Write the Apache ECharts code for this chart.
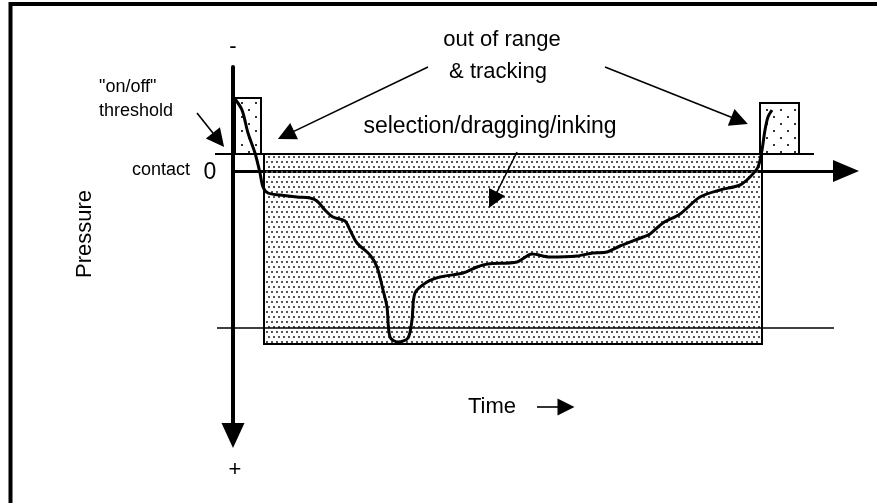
<!DOCTYPE html>
<html>
<head>
<meta charset="utf-8">
<script src="https://cdn.jsdelivr.net/npm/echarts@6/dist/echarts.min.js"></script>
<style>
  html, body { margin: 0; background: #fff; }
  #chart { width: 877px; height: 503px; }
</style>
</head>
<body>
<div id="chart"></div>
<script>
// pen pressure trace: time along x, pressure down the (inverted) y axis, 0 = contact
const traceTime = [0.4, 1.8, 3, 4.4, 5.4, 6, 7, 9.4, 12.8, 15.4, 16.8, 18.4, 20, 22.4, 23.4, 24.8,
  27.4, 28.8, 30, 30.8, 31.4, 33, 35, 35.8, 36.4, 38.8, 41.4, 46, 48.8, 51, 56.8, 59.8, 63.4,
  68.8, 72, 74.8, 77.4, 82, 83.4, 86, 89.4, 93.4, 97.4, 101.4, 103.4, 105, 105.8, 106.4, 107, 107.8]
const tracePressure = [-18, -15.25, -9.5, -4.5, 0.5, 4, 5.5, 6, 6.5, 6.75, 7.5, 9.75, 11.5, 12.5, 14.75, 18,
  21, 24, 29.75, 34, 41.5, 42.75, 41.75, 37.25, 30.5, 27.75, 26.5, 25.5, 24, 23.25, 22.75, 20.75, 21.5,
  21.25, 20.5, 20.25, 18.75, 16.5, 15.75, 13, 10.75, 6.5, 4.75, 3.5, 1.5, -1, -5.25, -10.25, -13.5, -15.25]

// levels
const thresholdLevel = -4.25
const lowerLevel = 39.25

// zones [t0, t1, p0, p1]
const zoneInking = [6.2, 105.8, -4.25, 43.25]
const zoneHoverLeft = [0.4, 5.6, -18.25, -4.25]
const zoneHoverRight = [105.4, 113.2, -17, -4.25]

// pointer arrows [[t0, p0], [t1, p1]]
const pointers = [
  [[-7.2, -14.5], [-2.9, -7.75]],
  [[39, -26], [10.6, -8.97]],
  [[74.4, -26], [101.3, -12.6]],
  [[56.8, -4.75], [52, 7.25]]
]
const timeArrow = [[60.8, 59], [66.6, 59]]

function dotPattern(size, dots, color, r) {
  const c = document.createElement('canvas')
  c.width = c.height = size
  const ctx = c.getContext('2d')
  ctx.fillStyle = color
  dots.forEach(([x, y]) => ctx.fillRect(x, y, r, r))
  return { image: c, repeat: 'repeat' }
}

const densePattern = dotPattern(10, [[1, 1], [6, 1], [3, 6], [8, 6]], '#555', 2)
const sparsePattern = dotPattern(14, [[3, 4], [10, 11]], '#333', 2)

const zoneArea = (z, fill) => [
  { coord: [z[0], z[2]], itemStyle: { color: fill, borderColor: '#000', borderWidth: 2, opacity: 1 } },
  { coord: [z[1], z[3]] }
]

const font = 'Liberation Sans, Arial, sans-serif'
const txt = (text, x, y, size, align, extra) => Object.assign({
  type: 'text', x, y, z: 20,
  style: { text, fill: '#000', font: size + 'px ' + font, align, verticalAlign: 'middle',
    textAlign: align, textVerticalAlign: 'middle' }
}, extra || {})

const chart = echarts.init(document.getElementById('chart'))

chart.setOption({
  animation: false,
  backgroundColor: '#fff',
  grid: { left: 233, right: 31, top: 67, bottom: 67.5 },
  xAxis: {
    type: 'value', min: 0, max: 122.6,
    axisLine: { show: true, onZero: true, symbol: ['none', 'triangle'], symbolSize: [22, 26],
      lineStyle: { color: '#000', width: 3 } },
    axisTick: { show: false }, axisLabel: { show: false }, splitLine: { show: false }
  },
  yAxis: {
    type: 'value', inverse: true, min: -26, max: 66.125,
    axisLine: { show: true, onZero: true, symbol: ['triangle', 'none'], symbolSize: [23, 25],
      lineStyle: { color: '#000', width: 4 } },
    axisTick: { show: false }, axisLabel: { show: false }, splitLine: { show: false }
  },
  graphic: [
    { type: 'rect', z: -1, shape: { x: 10.5, y: 4, width: 900, height: 600 },
      style: { fill: 'none', stroke: '#000', lineWidth: 4 } },
    txt('out of range', 502, 40, 22, 'center'),
    txt('& tracking', 498, 72, 22, 'center'),
    txt('selection/dragging/inking', 490, 127, 23, 'center'),
    txt('"on/off"', 99, 87, 18, 'left'),
    txt('threshold', 99, 111, 18, 'left'),
    txt('contact', 190, 170, 18, 'right'),
    txt('0', 210, 173, 23, 'center'),
    txt('-', 233, 47, 22, 'center'),
    txt('+', 235, 470, 22, 'center'),
    txt('Time', 492, 407, 22, 'center'),
    txt('Pressure', 85, 234, 22, 'center', { rotation: Math.PI / 2 })
  ],
  series: [
    {
      type: 'line', name: 'pressure',
      data: traceTime.map((t, i) => [t, tracePressure[i]]),
      smooth: 0.3, showSymbol: false, z: 5,
      lineStyle: { color: '#000', width: 3 },
      markArea: {
        silent: true,
        data: [
          zoneArea(zoneInking, densePattern),
          zoneArea(zoneHoverLeft, sparsePattern),
          zoneArea(zoneHoverRight, sparsePattern)
        ]
      }
    },
    {
      type: 'lines', name: 'levels', coordinateSystem: 'cartesian2d', clip: false, silent: true, z: 4,
      symbol: 'none',
      data: [
        { coords: [[-3.6, thresholdLevel], [116.2, thresholdLevel]], lineStyle: { width: 2 } },
        { coords: [[-3.2, lowerLevel], [120.2, lowerLevel]], lineStyle: { width: 1.5 } }
      ],
      lineStyle: { color: '#000', opacity: 1 }
    },
    {
      type: 'lines', name: 'pointers', coordinateSystem: 'cartesian2d', clip: false, silent: true, z: 6,
      symbol: ['none', 'triangle'], symbolSize: [13, 18],
      data: pointers.map(p => ({ coords: p })).concat([
        { coords: timeArrow, symbolSize: [15, 17] }
      ]),
      lineStyle: { color: '#000', width: 1.6, opacity: 1 }
    }
  ]
})
</script>
</body>
</html>
